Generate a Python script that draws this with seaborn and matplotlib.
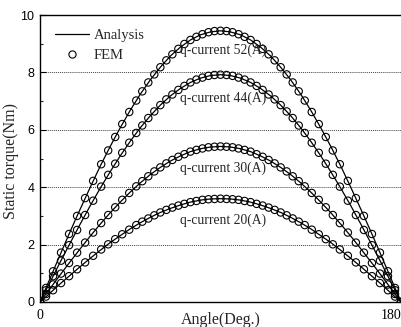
import matplotlib
matplotlib.use("Agg")
import matplotlib.pyplot as plt
import seaborn as sns
import pandas as pd
from matplotlib.lines import Line2D

# ---------------- data ----------------
series_names = ["52(A)", "44(A)", "30(A)", "20(A)"]

analysis_angle = [0, 5, 10, 15, 20, 25, 30, 35, 40, 45, 50, 55, 60, 65, 70, 75, 80, 85, 90,
                  95, 100, 105, 110, 115, 120, 125, 130, 135, 140, 145, 150, 155, 160, 165, 170, 175, 180]
analysis_52 = [0, 0.82, 1.64, 2.45, 3.23, 3.99, 4.73, 5.42, 6.07, 6.68, 7.24, 7.74, 8.18, 8.57, 8.88, 9.13, 9.31, 9.41, 9.45,
               9.41, 9.31, 9.13, 8.88, 8.57, 8.18, 7.74, 7.24, 6.68, 6.07, 5.42, 4.73, 3.99, 3.23, 2.45, 1.64, 0.82, 0]
analysis_44 = [0, 0.69, 1.38, 2.05, 2.71, 3.35, 3.96, 4.54, 5.09, 5.60, 6.07, 6.49, 6.86, 7.18, 7.44, 7.65, 7.80, 7.89, 7.92,
               7.89, 7.80, 7.65, 7.44, 7.18, 6.86, 6.49, 6.07, 5.60, 5.09, 4.54, 3.96, 3.35, 2.71, 2.05, 1.38, 0.69, 0]
analysis_30 = [0, 0.47, 0.94, 1.40, 1.85, 2.29, 2.71, 3.11, 3.48, 3.83, 4.15, 4.44, 4.69, 4.91, 5.09, 5.24, 5.34, 5.40, 5.42,
               5.40, 5.34, 5.24, 5.09, 4.91, 4.69, 4.44, 4.15, 3.83, 3.48, 3.11, 2.71, 2.29, 1.85, 1.40, 0.94, 0.47, 0]
analysis_20 = [0, 0.31, 0.63, 0.93, 1.23, 1.52, 1.80, 2.07, 2.31, 2.55, 2.76, 2.95, 3.12, 3.26, 3.38, 3.48, 3.55, 3.59, 3.60,
               3.59, 3.55, 3.48, 3.38, 3.26, 3.12, 2.95, 2.76, 2.55, 2.31, 2.07, 1.80, 1.52, 1.23, 0.93, 0.63, 0.31, 0]

fem_angle = [0, 3, 6.5, 10.5, 14.5, 18.5, 22.5, 26.5, 30.5, 34, 37.5, 41, 44.5, 48, 51, 54, 57, 60, 63, 66,
             69, 72, 75, 78, 81, 84, 87, 90, 93, 96, 99, 102, 105, 108, 111, 114, 117, 120, 123, 126,
             129, 132, 135.5, 139, 142.5, 146, 149.5, 153.5, 157.5, 161.5, 165.5, 169.5, 173.5, 177, 180]
fem_52 = [0, 0.49, 1.07, 1.72, 2.37, 3.00, 3.62, 4.22, 4.80, 5.28, 5.75, 6.20, 6.62, 7.02, 7.34, 7.65, 7.93, 8.18, 8.42, 8.63,
          8.82, 8.99, 9.13, 9.24, 9.33, 9.40, 9.44, 9.45, 9.44, 9.40, 9.33, 9.24, 9.13, 8.99, 8.82, 8.63, 8.42, 8.18, 7.93, 7.65,
          7.34, 7.02, 6.62, 6.20, 5.75, 5.28, 4.80, 4.22, 3.62, 3.00, 2.37, 1.72, 1.07, 0.49, 0]
fem_44 = [0, 0.41, 0.90, 1.44, 1.98, 2.51, 3.03, 3.53, 4.02, 4.43, 4.82, 5.20, 5.55, 5.89, 6.15, 6.41, 6.64, 6.86, 7.06, 7.23,
          7.39, 7.53, 7.65, 7.75, 7.82, 7.88, 7.91, 7.92, 7.91, 7.88, 7.82, 7.75, 7.65, 7.53, 7.39, 7.23, 7.06, 6.86, 6.64, 6.41,
          6.15, 5.89, 5.55, 5.20, 4.82, 4.43, 4.02, 3.53, 3.03, 2.51, 1.98, 1.44, 0.90, 0.41, 0]
fem_30 = [0, 0.28, 0.61, 0.99, 1.36, 1.72, 2.07, 2.42, 2.75, 3.03, 3.30, 3.56, 3.80, 4.03, 4.21, 4.38, 4.55, 4.69, 4.83, 4.95,
          5.06, 5.15, 5.24, 5.30, 5.35, 5.39, 5.41, 5.42, 5.41, 5.39, 5.35, 5.30, 5.24, 5.15, 5.06, 4.95, 4.83, 4.69, 4.55, 4.38,
          4.21, 4.03, 3.80, 3.56, 3.30, 3.03, 2.75, 2.42, 2.07, 1.72, 1.36, 0.99, 0.61, 0.28, 0]
fem_20 = [0, 0.19, 0.41, 0.66, 0.90, 1.14, 1.38, 1.61, 1.83, 2.01, 2.19, 2.36, 2.52, 2.68, 2.80, 2.91, 3.02, 3.12, 3.21, 3.29,
          3.36, 3.42, 3.48, 3.52, 3.56, 3.58, 3.59, 3.60, 3.59, 3.58, 3.56, 3.52, 3.48, 3.42, 3.36, 3.29, 3.21, 3.12, 3.02, 2.91,
          2.80, 2.68, 2.52, 2.36, 2.19, 2.01, 1.83, 1.61, 1.38, 1.14, 0.90, 0.66, 0.41, 0.19, 0]

label_texts = ["q-current 52(A)", "q-current 44(A)", "q-current 30(A)", "q-current 20(A)"]
label_x = [69.8, 69.8, 69.8, 69.8]
label_y = [8.78, 7.11, 4.67, 2.86]

y_ticks = [0, 2, 4, 6, 8, 10]
x_ticks = [0, 180]

# ---------------- frames ----------------
analysis_df = pd.concat([
    pd.DataFrame({"angle": analysis_angle, "torque": v, "series": n})
    for n, v in zip(series_names, [analysis_52, analysis_44, analysis_30, analysis_20])
], ignore_index=True)
fem_df = pd.concat([
    pd.DataFrame({"angle": fem_angle, "torque": v, "series": n})
    for n, v in zip(series_names, [fem_52, fem_44, fem_30, fem_20])
], ignore_index=True)

# ---------------- plot ----------------
sns.set_theme(style="white")
plt.rcParams["font.family"] = ["Liberation Serif", "DejaVu Serif"]

fig = plt.figure(figsize=(4.02, 3.27), dpi=100)
ax = fig.add_axes([40 / 402, 1 - 302 / 327, 361 / 402, 287 / 327])

for y in [2, 4, 6, 8]:
    ax.axhline(y, color="#444444", linestyle=(0, (1, 1)), linewidth=0.7, zorder=0)

sns.lineplot(data=analysis_df, x="angle", y="torque", units="series", estimator=None,
             color="black", linewidth=0.9, ax=ax, legend=False, sort=False)
sns.scatterplot(data=fem_df, x="angle", y="torque", marker="o", s=28,
                facecolor="none", edgecolor="black", linewidth=0.8, ax=ax, legend=False, zorder=3)

for t, x, y in zip(label_texts, label_x, label_y):
    ax.text(x, y, t, fontsize=9.8, ha="left", va="center", family=["Liberation Serif"])

ax.set_xlim(0, 180)
ax.set_ylim(0, 10)
ax.set_yticks(y_ticks)
ax.set_yticks([1, 3, 5, 7, 9], minor=True)
ax.set_xticks(x_ticks)
ax.set_yticklabels([str(v) for v in y_ticks], family=["Liberation Sans"], fontsize=9)
ax.set_xticklabels([str(v) for v in x_ticks], fontsize=10)
xl = ax.get_xticklabels()
xl[-1].set_ha("right")
ax.tick_params(axis="y", which="major", direction="in", length=4, width=0.8, pad=4, colors="black", left=True)
ax.tick_params(axis="y", which="minor", direction="in", length=2.5, width=0.8, left=True)
ax.tick_params(axis="x", which="major", length=0, pad=5, colors="black")

for side in ["left", "top", "bottom"]:
    ax.spines[side].set_color("black")
    ax.spines[side].set_linewidth(1.0)
ax.spines["right"].set_visible(False)

ax.set_xlabel("Angle(Deg.)", fontsize=11.5)
ax.set_ylabel("Static torque(Nm)", fontsize=11.5)
ax.xaxis.set_label_coords(0.501, -0.036)
ax.yaxis.set_label_coords(-0.057, 0.49)

handles = [Line2D([0], [0], color="black", linewidth=0.9),
           Line2D([0], [0], marker="o", linestyle="none", markerfacecolor="none",
                  markeredgecolor="black", markersize=5.2, markeredgewidth=0.8)]
ax.legend(handles, ["Analysis", "FEM"], loc="upper left", frameon=False,
          bbox_to_anchor=(0.026, 0.972), borderaxespad=0, handlelength=2.3,
          handletextpad=0.35, labelspacing=0.45, prop={"family": "Liberation Serif", "size": 10.5})

fig.savefig("out.png", dpi=100)
